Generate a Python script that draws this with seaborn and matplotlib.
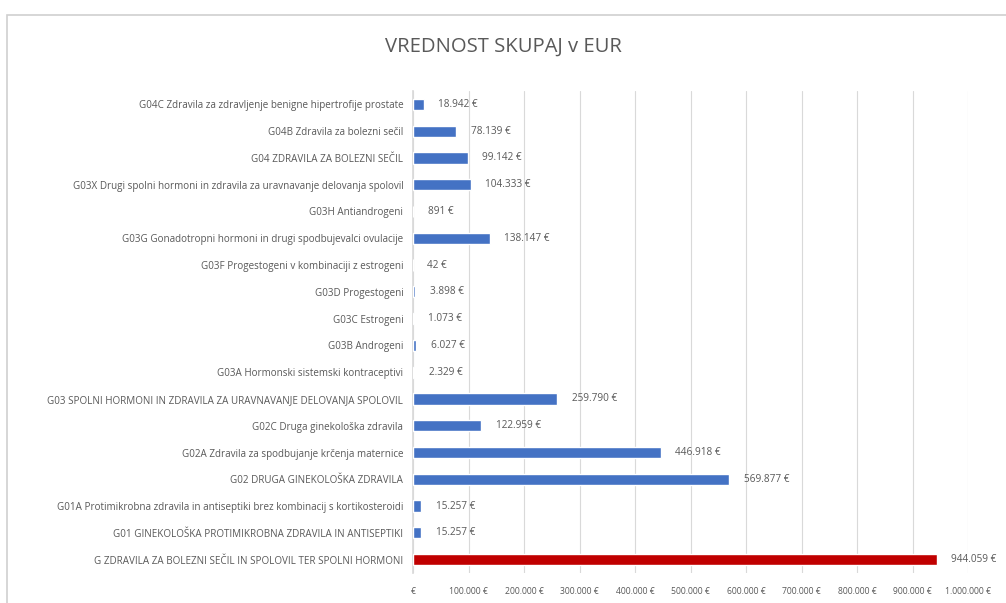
import matplotlib
matplotlib.use("Agg")
import matplotlib.pyplot as plt
import seaborn as sns
import pandas as pd
from matplotlib.patches import Rectangle
from matplotlib.ticker import FuncFormatter

# Categories, top to bottom as shown in the chart
categories = [
    "G04C Zdravila za zdravljenje benigne hipertrofije prostate",
    "G04B Zdravila za bolezni sečil",
    "G04 ZDRAVILA ZA BOLEZNI SEČIL",
    "G03X Drugi spolni hormoni in zdravila za uravnavanje delovanja spolovil",
    "G03H Antiandrogeni",
    "G03G Gonadotropni hormoni in drugi spodbujevalci ovulacije",
    "G03F Progestogeni v kombinaciji z estrogeni",
    "G03D Progestogeni",
    "G03C Estrogeni",
    "G03B Androgeni",
    "G03A Hormonski sistemski kontraceptivi",
    "G03 SPOLNI HORMONI IN ZDRAVILA ZA URAVNAVANJE DELOVANJA SPOLOVIL",
    "G02C Druga ginekološka zdravila",
    "G02A Zdravila za spodbujanje krčenja maternice",
    "G02 DRUGA GINEKOLOŠKA ZDRAVILA",
    "G01A Protimikrobna zdravila in antiseptiki brez kombinacij s kortikosteroidi",
    "G01 GINEKOLOŠKA PROTIMIKROBNA ZDRAVILA IN ANTISEPTIKI",
    "G ZDRAVILA ZA BOLEZNI SEČIL IN SPOLOVIL TER SPOLNI HORMONI",
]
values = [18942, 78139, 99142, 104333, 891, 138147, 42, 3898, 1073, 6027,
          2329, 259790, 122959, 446918, 569877, 15257, 15257, 944059]
x_ticks = [0, 100000, 200000, 300000, 400000, 500000, 600000, 700000,
           800000, 900000, 1000000]

blue = "#4472C4"
red = "#C00000"
grey_text = "#595959"

df = pd.DataFrame({"Kategorija": categories, "Vrednost": values})
df["barva"] = ["total" if c.startswith("G ZDRAVILA") else "other" for c in categories]

sns.set_theme(style="white")
plt.rcParams["font.family"] = ["Open Sans", "DejaVu Sans"]


def eur(v):
    s = f"{int(round(v)):,}".replace(",", ".")
    return f"{s} €"


fig = plt.figure(figsize=(10.06, 6.03), dpi=100)
ax = fig.add_axes([413 / 1006, 1 - 573 / 603, 555 / 1006, 482 / 603])

sns.barplot(data=df, x="Vrednost", y="Kategorija", hue="barva",
            palette={"other": blue, "total": red}, order=categories,
            width=0.42, legend=False, dodge=False, saturation=1,
            ax=ax, zorder=3)

ax.set_xlim(0, 1000000)
ax.set_xticks(x_ticks)
ax.xaxis.set_major_formatter(FuncFormatter(lambda v, p: "€" if v == 0 else eur(v)))
ax.grid(axis="x", color="#D9D9D9", linewidth=0.8, zorder=0)
ax.set_xlabel("")
ax.set_ylabel("")
for s in ["top", "right", "bottom"]:
    ax.spines[s].set_visible(False)
ax.spines["left"].set_color("#D9D9D9")
ax.tick_params(axis="y", length=3, color="#BFBFBF", labelsize=7.1,
               labelcolor=grey_text, pad=4)
ax.tick_params(axis="x", length=0, labelsize=6.2, labelcolor=grey_text, pad=10)

for i, v in enumerate(values):
    ax.text(v + 26000, i, eur(v), va="center", ha="left", fontsize=7.2,
            color=grey_text, zorder=4)

fig.text(0.5, 1 - 47 / 603, "VREDNOST SKUPAJ v EUR", ha="center", va="center",
         fontsize=14.6, color=grey_text)

fig.patches.append(Rectangle((7 / 1006, -0.01), 1.02, 1 - 15 / 603 + 0.01,
                             transform=fig.transFigure, fill=False,
                             edgecolor="#D0D0D0", linewidth=1.2))

fig.savefig("out.png", dpi=100, facecolor="white")
